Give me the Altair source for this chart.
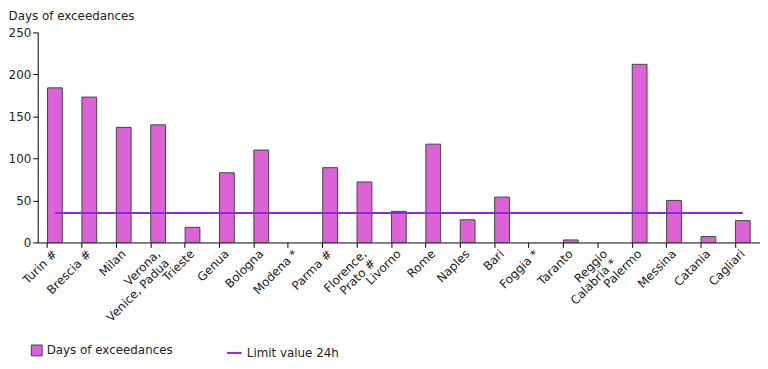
import altair as alt
import pandas as pd

cities = ["Turin #", "Brescia #", "Milan", "Verona,\nVenice, Padua", "Trieste", "Genua",
          "Bologna", "Modena *", "Parma #", "Florence,\nPrato #", "Livorno", "Rome",
          "Naples", "Bari", "Foggia *", "Taranto", "Reggio\nCalabria *", "Palermo",
          "Messina", "Catania", "Cagliari"]
days = [184, 173, 137, 140, 18, 83, 110, 0, 89, 72, 37, 117, 27, 54, 0, 3, 0, 212, 50, 7, 26]
limit = [35] * len(cities)
y_ticks = [0, 50, 100, 150, 200, 250]

df = pd.DataFrame({"city": cities, "days": days, "limit": limit})

FONT = "DejaVu Sans"
FS = 12

x = alt.X("city:N", sort=cities, title=None,
          scale=alt.Scale(domain=cities, paddingInner=0.57, paddingOuter=0.285),
          axis=alt.Axis(labelAngle=-45, labelAlign="right", labelBaseline="middle",
                        labelExpr="split(datum.label, '\\n')", bandPosition=0,
                        labelFontSize=FS, labelColor="#222", labelPadding=4,
                        tickColor="#000", domainColor="#000", tickSize=5,
                        labelLineHeight=13, labelOverlap=False, labelFont=FONT))

y = alt.Y("days:Q", scale=alt.Scale(domain=[0, 250], nice=False),
          axis=alt.Axis(values=y_ticks, grid=False, title="Days of exceedances",
                        titleAngle=0, titleAlign="left", titleBaseline="top",
                        titleX=-30, titleY=-22, titleFontWeight="normal",
                        titleFontSize=FS, titleColor="#222", titleFont=FONT,
                        labelFontSize=FS, labelColor="#222", labelFont=FONT,
                        tickColor="#000", domainColor="#000", tickSize=5, labelPadding=2))

bars = alt.Chart(df).transform_filter("datum.days > 0").transform_calculate(
    lab="'Days of exceedances'"
).mark_bar(stroke="#444", strokeWidth=1).encode(
    x=x,
    y=y,
    fill=alt.Fill("lab:N", scale=alt.Scale(range=["#DD62D8"]),
                  legend=alt.Legend(title=None, orient="none", legendX=-7, legendY=315,
                                    symbolType="square", symbolSize=120,
                                    symbolStrokeColor="#444", symbolStrokeWidth=1,
                                    labelFontSize=FS, labelColor="#222", labelFont=FONT)),
)

line = alt.Chart(df).transform_calculate(lab="'Limit value 24h'").mark_line(strokeWidth=2).encode(
    x=alt.X("city:N", sort=cities),
    y=alt.Y("limit:Q"),
    stroke=alt.Stroke("lab:N", scale=alt.Scale(range=["#8A2BE2"]),
                      legend=alt.Legend(title=None, orient="none", legendX=190, legendY=315,
                                        symbolType="stroke", symbolSize=220, symbolStrokeWidth=2,
                                        labelFontSize=FS, labelColor="#222", labelFont=FONT)),
)

chart = alt.layer(bars, line).resolve_scale(fill="independent", stroke="independent").properties(
    width=729, height=212,
    padding={"left": 0, "top": 0, "right": 0, "bottom": 0},
).configure(font=FONT).configure_view(stroke=None).configure_axis(grid=False)

chart.save("out.html", embed_options={"renderer": "svg", "actions": False})
